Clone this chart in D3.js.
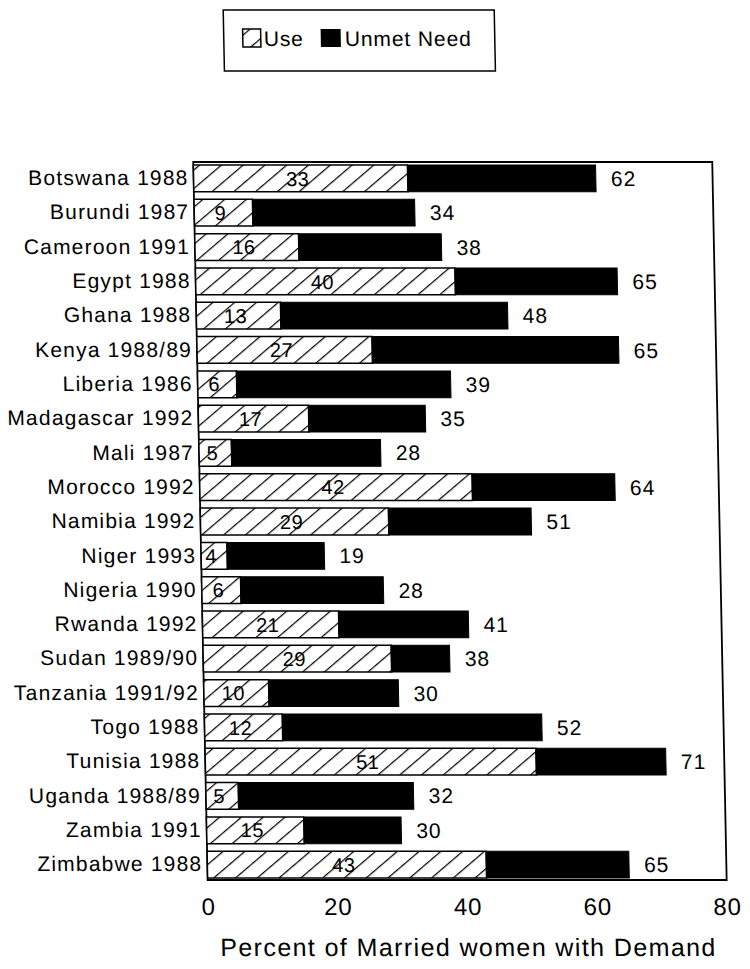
<!DOCTYPE html>
<html><head><meta charset="utf-8">
<script src="https://cdn.jsdelivr.net/npm/d3@7"></script>
<style>body{margin:0;background:#fff} svg{display:block}</style>
</head><body>
<script>
const countries = ["Botswana 1988","Burundi 1987","Cameroon 1991","Egypt 1988","Ghana 1988","Kenya 1988/89","Liberia 1986","Madagascar 1992","Mali 1987","Morocco 1992","Namibia 1992","Niger 1993","Nigeria 1990","Rwanda 1992","Sudan 1989/90","Tanzania 1991/92","Togo 1988","Tunisia 1988","Uganda 1988/89","Zambia 1991","Zimbabwe 1988"];
const useValues = [33,9,16,40,13,27,6,17,5,42,29,4,6,21,29,10,12,51,5,15,43];
const totalValues = [62,34,38,65,48,65,39,35,28,64,51,19,28,41,38,30,52,71,32,30,65];
const xTickValues = [0,20,40,60,80];
const legendLabels = ["Use","Unmet Need"];
const xAxisTitle = "Percent of Married women with Demand";

const data = countries.map((c,i)=>({c, use:useValues[i], total:totalValues[i]}));
const FONT = "'Liberation Sans', Arial, Helvetica, sans-serif";

const svg = d3.select("body").append("svg").attr("width",750).attr("height",969)
  .style("font-family",FONT);
const defs = svg.append("defs");
const pat = defs.append("pattern").attr("id","hatch").attr("patternUnits","userSpaceOnUse")
  .attr("width",10).attr("height",14).attr("patternTransform","rotate(-40)");
pat.append("rect").attr("width",10).attr("height",14).attr("fill","#fff");
pat.append("line").attr("x1",0).attr("x2",10).attr("y1",0.6).attr("y2",0.6)
  .attr("stroke","#000").attr("stroke-width",1.2);

const g = svg.append("g").attr("transform","skewX(1.15)");

const x = d3.scaleLinear().domain([0,80]).range([190,709]);
const y = d3.scaleBand().domain(countries).range([163,880]).paddingInner(0.22).paddingOuter(0.06);

// frame
g.append("rect").attr("x",x(0)).attr("y",162).attr("width",x(80)-x(0)).attr("height",880-162)
  .attr("fill","none").attr("stroke","#000").attr("stroke-width",1.8);

// bars
const rows = g.append("g").selectAll("g").data(data).join("g");
rows.append("rect").attr("x",d=>x(0)).attr("y",d=>y(d.c)).attr("width",d=>x(d.use)-x(0))
  .attr("height",y.bandwidth()).attr("fill","url(#hatch)").attr("stroke","#000").attr("stroke-width",1.5);
rows.append("rect").attr("x",d=>x(d.use)).attr("y",d=>y(d.c)).attr("width",d=>x(d.total)-x(d.use))
  .attr("height",y.bandwidth()).attr("fill","#000").attr("stroke","#000").attr("stroke-width",1);
rows.append("text").attr("x",d=>x(d.use/2)-3).attr("y",d=>y(d.c)+y.bandwidth()/2)
  .attr("dy","0.36em").attr("text-anchor","middle").attr("font-size",20).attr("letter-spacing",0.5)
  .text(d=>d.use);
rows.append("text").attr("x",d=>x(d.total)+15).attr("y",d=>y(d.c)+y.bandwidth()/2)
  .attr("dy","0.36em").attr("font-size",21).attr("letter-spacing",1)
  .text(d=>d.total);

// axes
const yAxis = g.append("g").attr("transform",`translate(${x(0)},0)`)
  .call(d3.axisLeft(y).tickSize(0).tickPadding(5));
yAxis.select(".domain").remove();
yAxis.selectAll("text").attr("font-size",21).attr("letter-spacing",1.2).attr("fill","#000")
  .attr("font-family",FONT);

const xAxis = g.append("g").attr("transform","translate(0,880)")
  .call(d3.axisBottom(x).tickValues(xTickValues).tickSize(0).tickPadding(18));
xAxis.select(".domain").remove();
xAxis.selectAll("text").attr("font-size",24).attr("letter-spacing",1).attr("fill","#000")
  .attr("font-family",FONT);

g.append("text").attr("x",(x(0)+x(80))/2).attr("y",956).attr("text-anchor","middle")
  .attr("font-size",25).attr("letter-spacing",1.4).text(xAxisTitle);

// legend
const lg = g.append("g");
lg.append("rect").attr("x",223).attr("y",10).attr("width",271).attr("height",61)
  .attr("fill","#fff").attr("stroke","#000").attr("stroke-width",1.5);
lg.append("rect").attr("x",242).attr("y",29).attr("width",18).attr("height",18)
  .attr("fill","url(#hatch)").attr("stroke","#000").attr("stroke-width",1.5);
lg.append("text").attr("x",263).attr("y",46).attr("font-size",21).attr("letter-spacing",0.8).text(legendLabels[0]);
lg.append("rect").attr("x",320).attr("y",29).attr("width",20).attr("height",18).attr("fill","#000");
lg.append("text").attr("x",344).attr("y",46).attr("font-size",21).attr("letter-spacing",0.9).text(legendLabels[1]);
</script>
</body></html>
